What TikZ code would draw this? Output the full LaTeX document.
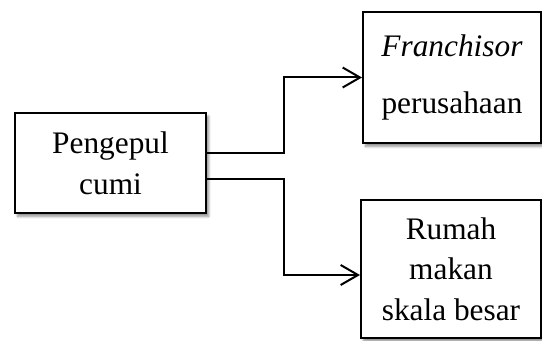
\documentclass[tikz,border=0pt]{standalone}
\usepackage{fontspec}
\setmainfont{Liberation Serif}
\usetikzlibrary{arrows.meta,calc,shadows.blur}
\begin{document}
\begin{tikzpicture}[x=0.75pt,y=-0.75pt,
  box/.style={draw=black,line width=1.5pt,fill=white,align=center,inner sep=0pt,
    font=\fontsize{23.5}{30.5}\selectfont,
    blur shadow={shadow xshift=2pt,shadow yshift=-2.5pt,shadow blur steps=6,shadow opacity=45}},
  conn/.style={line width=1.5pt,-{Straight Barb[length=13pt,width=15pt,line width=1.5pt]}}]
\useasboundingbox (0,0) rectangle (542,341);
\node[box,minimum width=143.25pt,minimum height=75pt] (pg) at (110.5,163) {Pengepul\\cumi};
\node[box,minimum width=133.5pt,minimum height=98.25pt] (fr) at (452,77.5) {\textit{Franchisor}\\[12.5pt]perusahaan};
\node[box,minimum width=135pt,minimum height=103.5pt] (rm) at (451,269) {Rumah\\makan\\skala besar};
\draw[conn] ($(pg.east)+(0,-10)$) -- ++(77,0) |- (fr.west);
\draw[conn] ($(pg.east)+(0,16)$) -- ++(77,0) |- ($(rm.west)+(0,6)$);
\end{tikzpicture}
\end{document}
